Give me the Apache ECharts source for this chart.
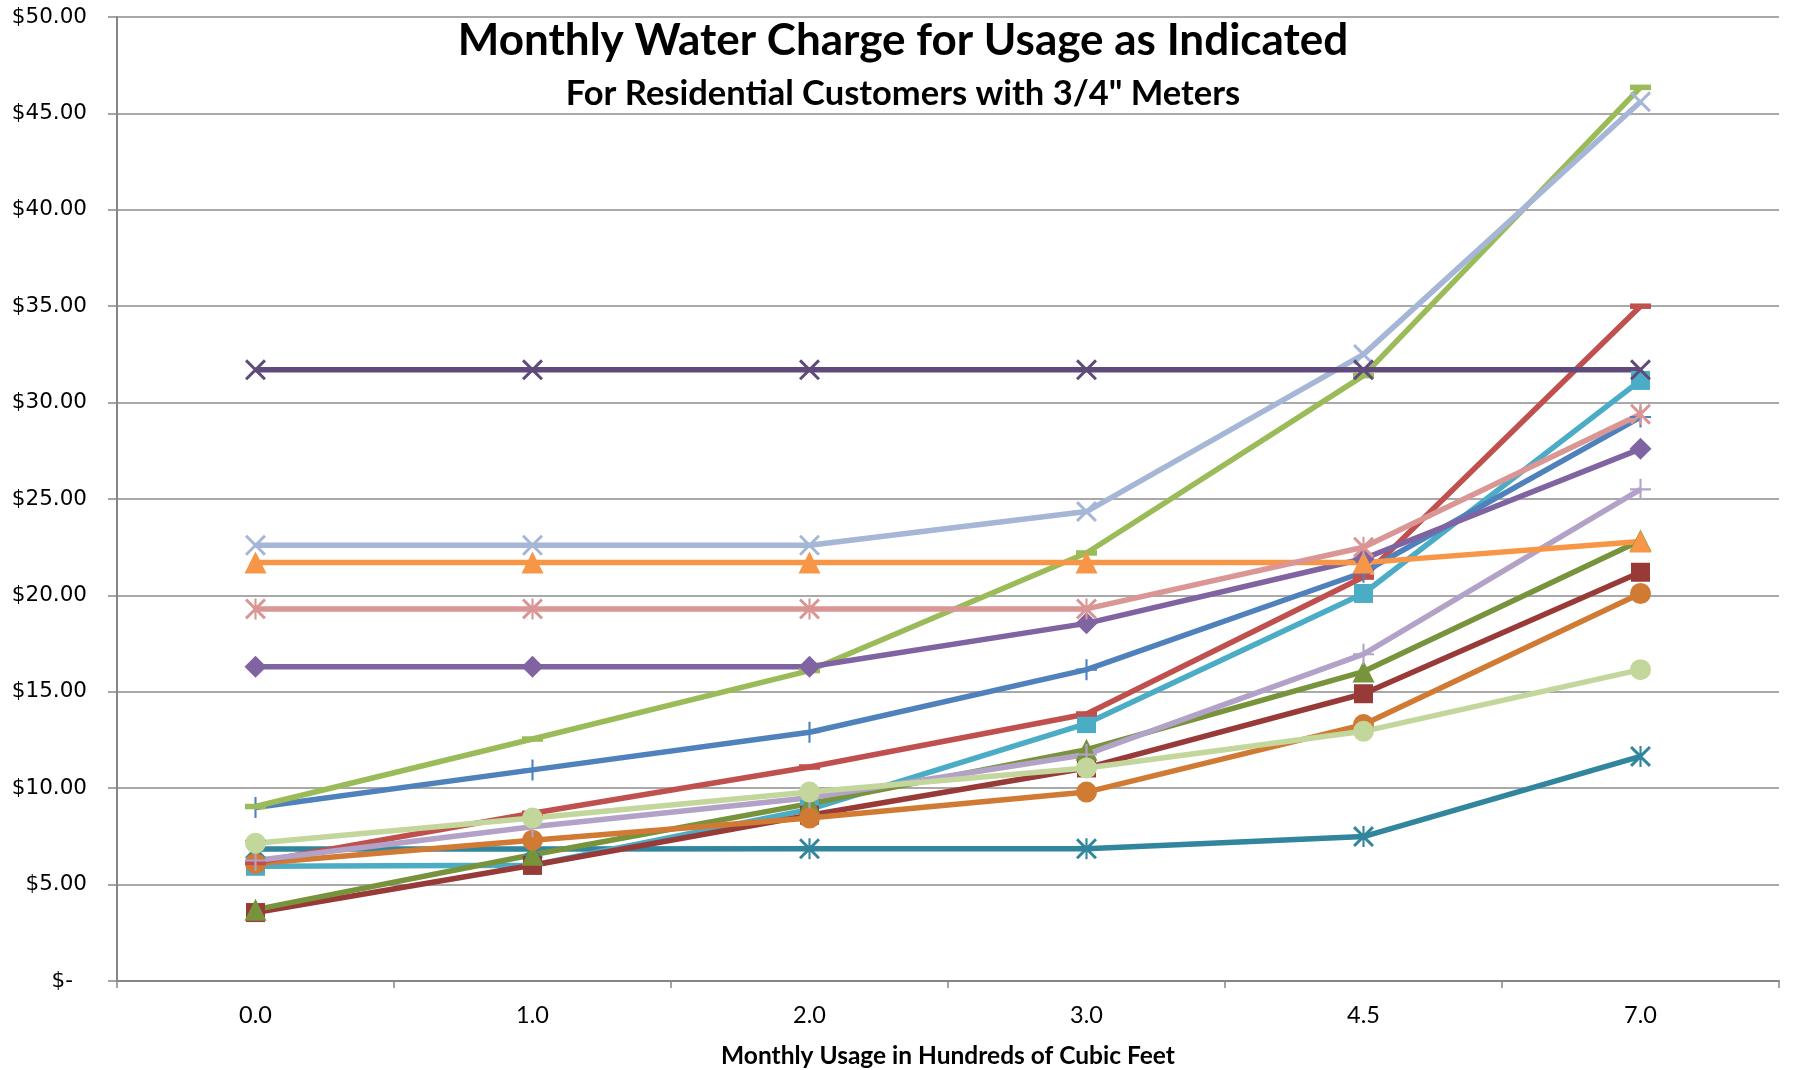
<!DOCTYPE html>
<html>
<head>
<meta charset="utf-8">
<script src="https://cdn.jsdelivr.net/npm/echarts@6/dist/echarts.min.js"></script>
<style>
    html, body { margin: 0; padding: 0; background: #fff; }
    #chart { width: 1797px; height: 1070px; }
</style>
</head>
<body>
<div id="chart"></div>
<script>
// usage categories (hundreds of cubic feet)
const usageLabels = ['0.0', '1.0', '2.0', '3.0', '4.5', '7.0'];
const yTicks = [0, 5, 10, 15, 20, 25, 30, 35, 40, 45, 50];

// monthly charge per utility
const tealStar = [6.85, 6.85, 6.86, 6.86, 7.49, 11.65];
const aquaSquare = [5.95, 6.0, 8.9, 13.35, 20.1, 31.15];
const darkRedSquare = [3.55, 6.0, 8.6, 11.05, 14.9, 21.2];
const oliveTriangle = [3.7, 6.55, 9.2, 12.0, 16.05, 22.85];
const orangeCircle = [6.1, 7.3, 8.45, 9.8, 13.3, 20.1];
const redDash = [6.15, 8.7, 11.1, 13.85, 20.95, 35.0];
const lilacPlus = [6.25, 8.0, 9.5, 11.75, 16.95, 25.5];
const paleGreenCircle = [7.15, 8.45, 9.8, 11.05, 12.95, 16.15];
const bluePlus = [9.0, 10.95, 12.9, 16.15, 21.2, 29.25];
const greenDash = [9.05, 12.55, 16.1, 22.2, 31.4, 46.35];
const purpleDiamond = [16.3, 16.3, 16.3, 18.55, 21.9, 27.6];
const orangeTriangle = [21.7, 21.7, 21.7, 21.7, 21.7, 22.8];
const pinkStar = [19.3, 19.3, 19.3, 19.3, 22.5, 29.4];
const lightBlueX = [22.6, 22.6, 22.6, 24.35, 32.5, 45.6];
const darkPurpleX = [31.7, 31.7, 31.7, 31.7, 31.7, 31.7];

const PLUS = 'path://M4.5,0 H5.5 V4.5 H10 V5.5 H5.5 V10 H4.5 V5.5 H0 V4.5 H4.5 Z';
const CROSS = 'path://M0,1 L1,0 L5,4 L9,0 L10,1 L6,5 L10,9 L9,10 L5,6 L1,10 L0,9 L4,5 Z';
const STAR = 'path://M0,1 L1,0 L5,4 L9,0 L10,1 L6,5 L10,9 L9,10 L5,6 L1,10 L0,9 L4,5 Z M4.5,0 H5.5 V10 H4.5 Z';

function makeSeries(data, color, symbol, size) {
    return {
        type: 'line',
        data: data,
        symbol: symbol,
        symbolSize: size,
        showAllSymbol: true,
        lineStyle: { color: color, width: 5.5 },
        itemStyle: { color: color },
        emphasis: { disabled: true }
    };
}

const seriesList = [
    makeSeries(tealStar, '#31859C', STAR, 21),
    makeSeries(aquaSquare, '#4BACC6', 'rect', 19),
    makeSeries(darkRedSquare, '#983A37', 'rect', 19),
    makeSeries(oliveTriangle, '#77933C', 'triangle', 22),
    makeSeries(orangeCircle, '#D17A33', 'circle', 21),
    makeSeries(redDash, '#C0504D', 'rect', [21, 5.5]),
    makeSeries(lilacPlus, '#B3A2C7', PLUS, 21),
    makeSeries(paleGreenCircle, '#C3D69B', 'circle', 21),
    makeSeries(bluePlus, '#4F81BD', PLUS, 21),
    makeSeries(greenDash, '#9BBB59', 'rect', [21, 5.5]),
    makeSeries(purpleDiamond, '#8064A2', 'diamond', 22),
    makeSeries(orangeTriangle, '#F79646', 'triangle', 22),
    makeSeries(pinkStar, '#D99694', STAR, 21),
    makeSeries(lightBlueX, '#A5B6D6', CROSS, 21),
    makeSeries(darkPurpleX, '#604A7B', CROSS, 21)
];

const chart = echarts.init(document.getElementById('chart'), null, { renderer: 'canvas' });

const option = {
    animation: false,
    backgroundColor: '#fff',
    title: [
        {
            text: 'Monthly Water Charge for Usage as Indicated',
            left: 898,
            top: 14,
            textAlign: 'center',
            textStyle: { fontFamily: 'Lato', fontWeight: 'bold', fontSize: 44, color: '#000' }
        },
        {
            text: 'For Residential Customers with 3/4" Meters',
            left: 898,
            top: 71,
            textAlign: 'center',
            textStyle: { fontFamily: 'Lato', fontWeight: 'bold', fontSize: 34.5, color: '#000' }
        }
    ],
    grid: { left: 117, right: 18, top: 17, bottom: 89, containLabel: false, outerBoundsMode: 'none' },
    xAxis: {
        type: 'category',
        data: usageLabels,
        boundaryGap: true,
        name: 'Monthly Usage in Hundreds of Cubic Feet',
        nameLocation: 'middle',
        nameGap: 63,
        nameTextStyle: { fontFamily: 'Lato', fontWeight: 'bold', fontSize: 24.5, color: '#000' },
        axisLine: { lineStyle: { color: '#868686', width: 2 } },
        axisTick: { show: true, alignWithLabel: false, length: 7, lineStyle: { color: '#868686', width: 1.5 } },
        axisLabel: { fontFamily: 'Lato', fontSize: 23.5, color: '#000', margin: 22 },
        splitLine: { show: false }
    },
    yAxis: {
        type: 'value',
        min: 0,
        max: 50,
        interval: 5,
        axisLine: { show: true, lineStyle: { color: '#868686', width: 2 } },
        axisTick: { show: true, length: 9, lineStyle: { color: '#868686', width: 1.5 } },
        axisLabel: {
            fontFamily: 'DejaVu Sans',
            fontSize: 21.5,
            color: '#000',
            margin: 30,
            formatter: function (v) {
                if (v === 0) return '{z|$-}';
                return '$' + v.toFixed(2);
            },
            rich: {
                z: { fontFamily: 'DejaVu Sans', fontSize: 21.5, color: '#000', padding: [0, 14, 0, 0] }
            }
        },
        splitLine: { show: true, lineStyle: { color: '#8C8C8C', width: 1.5 } }
    },
    series: seriesList
};

option && chart.setOption(option);
</script>
</body>
</html>
